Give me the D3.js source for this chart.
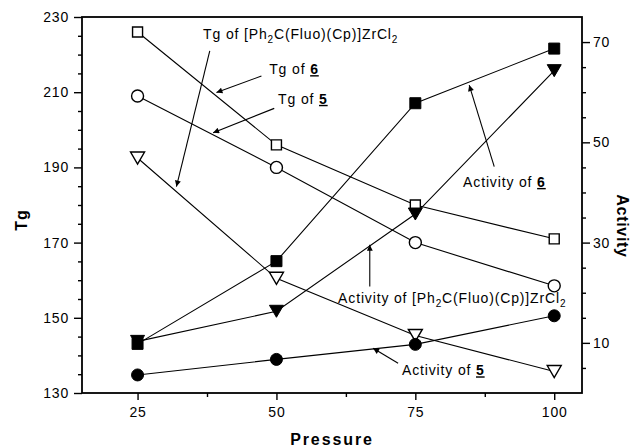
<!DOCTYPE html>
<html><head><meta charset="utf-8">
<script src="https://cdn.jsdelivr.net/npm/d3@7"></script>
<style>body{margin:0;background:#fff} svg{display:block} text{font-family:"Liberation Sans",Arial,sans-serif;fill:#000}</style>
</head><body><svg id="c" width="634" height="447"></svg>
<script>
// ---- data ----
const pressure = [25, 50, 75, 100];
const tg6  = [226, 196, 180, 171];
const tg5  = [209, 190, 170, 158.5];
const tgPh = [192.5, 160.5, 145.3, 135.7];
const act6  = [9.8, 26.3, 57.8, 68.7];
const actPh = [10.3, 16.3, 35.7, 64.3];
const act5  = [3.6, 6.7, 9.7, 15.4];
const xTicks = [25, 50, 75, 100];
const xMinor = [37.5, 62.5, 87.5];
const tgTicks = [130, 150, 170, 190, 210, 230];
const actTicks = [10, 30, 50, 70];

// ---- scales ----
const svg = d3.select("#c");
const L = 82, R = 582, T = 17, B = 393;
const x  = d3.scaleLinear([15, 105], [L, R]);
const yL = d3.scaleLinear([130, 230], [B, T]);
const yR = d3.scaleLinear([0, 75], [B, T]);

const tgMinor = d3.range(130, 231, 5).filter(v => !tgTicks.includes(v));
const actMinor = d3.range(5, 71, 5).filter(v => !actTicks.includes(v));

function styleAxis(g) {
  g.select(".domain").remove();
  g.selectAll(".tick line").attr("stroke", "#000").attr("stroke-width", 1.4);
  g.selectAll(".tick text").attr("font-size", 14).attr("letter-spacing", 0.8)
    .attr("font-family", '"Liberation Sans",Arial,sans-serif').attr("fill", "#000");
}
// bottom axis
svg.append("g").attr("transform", `translate(0,${B})`)
  .call(d3.axisBottom(x).tickValues(xTicks).tickSize(7).tickPadding(7).tickFormat(d3.format("d")))
  .call(g => styleAxis(g));
svg.append("g").attr("transform", `translate(0,${B})`)
  .call(d3.axisBottom(x).tickValues(xMinor).tickSize(4).tickFormat(""))
  .call(g => styleAxis(g));
// left axis
svg.append("g").attr("transform", `translate(${L},0)`)
  .call(d3.axisLeft(yL).tickValues(tgTicks).tickSize(8).tickPadding(5).tickFormat(d3.format("d")))
  .call(g => styleAxis(g));
svg.append("g").attr("transform", `translate(${L},0)`)
  .call(d3.axisLeft(yL).tickValues(tgMinor).tickSize(4).tickFormat(""))
  .call(g => styleAxis(g));
// right axis
svg.append("g").attr("transform", `translate(${R},0)`)
  .call(d3.axisRight(yR).tickValues(actTicks).tickSize(8).tickPadding(3).tickFormat(d3.format("d")))
  .call(g => styleAxis(g));
svg.append("g").attr("transform", `translate(${R},0)`)
  .call(d3.axisRight(yR).tickValues(actMinor).tickSize(4).tickFormat(""))
  .call(g => styleAxis(g));

// frame
svg.append("rect").attr("x", L).attr("y", T).attr("width", R - L).attr("height", B - T)
  .attr("fill", "none").attr("stroke", "#000").attr("stroke-width", 1.8);

// axis titles
svg.append("text").attr("transform", `translate(27,${(T + B) / 2 + 15}) rotate(-90)`)
  .attr("text-anchor", "middle").attr("font-size", 16).attr("font-weight", "bold")
  .attr("letter-spacing", 1).text("Tg");
svg.append("text").attr("transform", `translate(617,${(T + B) / 2 + 21}) rotate(90)`)
  .attr("text-anchor", "middle").attr("font-size", 16).attr("font-weight", "bold")
  .attr("letter-spacing", 0.7).text("Activity");
svg.append("text").attr("x", (L + R) / 2).attr("y", 445)
  .attr("text-anchor", "middle").attr("font-size", 16).attr("font-weight", "bold")
  .attr("letter-spacing", 1.9).text("Pressure");

// ---- series ----
const series = [
  { vals: tg6,  y: yL, shape: "square",   fill: "#fff" },
  { vals: tg5,  y: yL, shape: "circle",   fill: "#fff" },
  { vals: tgPh, y: yL, shape: "triangle", fill: "#fff" },
  { vals: act6,  y: yR, shape: "square",   fill: "#000" },
  { vals: actPh, y: yR, shape: "triangle", fill: "#000" },
  { vals: act5,  y: yR, shape: "circle",   fill: "#000" }
];
const line = (ys) => d3.line().x((d, i) => x(pressure[i])).y(d => ys(d));
series.forEach(s => {
  svg.append("path").datum(s.vals).attr("d", line(s.y)).attr("fill", "none")
    .attr("stroke", "#000").attr("stroke-width", 1.1);
});
function shapePath(shape, filled) {
  if (shape === "square") { const h = filled ? 5.5 : 5; return `M${-h},${-h}H${h}V${h}H${-h}Z`; }
  if (shape === "circle") { const r = 6; return `M${r},0A${r},${r} 0 1 1 ${-r},0A${r},${r} 0 1 1 ${r},0Z`; }
  return "M-7,-6H7L0,6Z";
}
series.forEach(s => {
  const filled = s.fill === "#000";
  svg.append("g").selectAll("path").data(s.vals).join("path")
    .attr("transform", (d, i) => `translate(${x(pressure[i])},${s.y(d)})`)
    .attr("d", shapePath(s.shape, filled))
    .attr("fill", s.fill).attr("stroke", "#000").attr("stroke-width", filled ? 1 : 1.4);
});

// ---- annotations (positions in pressure / Tg units) ----
svg.append("defs").append("marker").attr("id", "ah").attr("viewBox", "0 0 10 10")
  .attr("refX", 10).attr("refY", 5).attr("markerWidth", 7).attr("markerHeight", 6)
  .attr("markerUnits", "userSpaceOnUse").attr("orient", "auto")
  .append("path").attr("d", "M0,0L10,5L0,10Z").attr("fill", "#000");

const annotations = [
  { parts: [{ t: "Tg of [Ph" }, { t: "2", sub: 1 }, { t: "C(Fluo)(Cp)]ZrCl" }, { t: "2", sub: 1 }],
    tx: 36.8, ty: 224.1, from: [38.0, 221.0], to: [32.0, 184.9] },
  { parts: [{ t: "Tg of " }, { t: "6", b: 1 }], tx: 48.7, ty: 214.8, from: [47.3, 214.3], to: [39.2, 209.9] },
  { parts: [{ t: "Tg of " }, { t: "5", b: 1 }], tx: 50.3, ty: 206.9, from: [49.6, 205.7], to: [38.6, 199.2] },
  { parts: [{ t: "Activity of " }, { t: "6", b: 1 }], tx: 83.6, ty: 184.8, from: [89.2, 190.2], to: [84.7, 211.9] },
  { parts: [{ t: "Activity of [Ph" }, { t: "2", sub: 1 }, { t: "C(Fluo)(Cp)]ZrCl" }, { t: "2", sub: 1 }],
    tx: 61.1, ty: 153.9, from: [66.8, 158.3], to: [66.8, 169.4] },
  { parts: [{ t: "Activity of " }, { t: "5", b: 1 }], tx: 72.6, ty: 134.7, from: [71.9, 137.9], to: [67.4, 141.9] }
];
annotations.forEach(a => {
  svg.append("line").attr("x1", x(a.from[0])).attr("y1", yL(a.from[1]))
    .attr("x2", x(a.to[0])).attr("y2", yL(a.to[1]))
    .attr("stroke", "#000").attr("stroke-width", 1.1).attr("marker-end", "url(#ah)");
  const t = svg.append("text").attr("x", x(a.tx)).attr("y", yL(a.ty))
    .attr("font-size", 14).attr("letter-spacing", 0.85);
  let shift = 0;
  a.parts.forEach(p => {
    const sp = t.append("tspan").text(p.t);
    const target = p.sub ? 4 : 0;
    if (target !== shift) { sp.attr("dy", target - shift); shift = target; }
    if (p.sub) sp.attr("font-size", 10);
    if (p.b) sp.attr("font-weight", "bold").attr("text-decoration", "underline");
  });
});
</script></body></html>
